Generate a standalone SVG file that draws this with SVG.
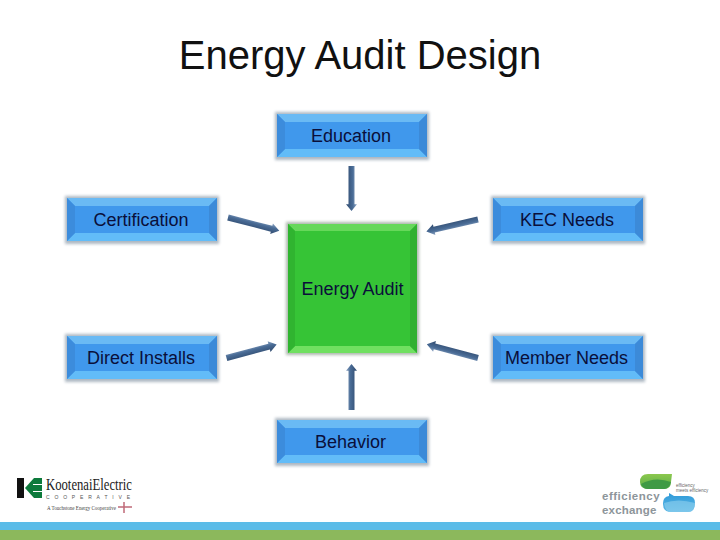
<svg xmlns="http://www.w3.org/2000/svg" xmlns:xlink="http://www.w3.org/1999/xlink" width="720" height="540" viewBox="0 0 720 540">
<style>
text{font-family:"Liberation Sans",Arial,sans-serif}
.lbl{font-size:18px;fill:#0a0f3a;text-anchor:middle}
.title{font-size:40px;fill:#111;text-anchor:middle}
</style>
<defs>
<linearGradient id="steel" x1="0" y1="0" x2="0" y2="1"><stop offset="0" stop-color="#8ea6c4"/><stop offset=".4" stop-color="#4a6c96"/><stop offset="1" stop-color="#2f4a6e"/></linearGradient>
<linearGradient id="greenBlob" x1="0" y1="0" x2="0" y2="1"><stop offset="0" stop-color="#8cc84e"/><stop offset="1" stop-color="#57ad48"/></linearGradient>
<linearGradient id="blueBlob" x1="0" y1="0" x2="0" y2="1"><stop offset="0" stop-color="#2f9ad8"/><stop offset="1" stop-color="#5db8e6"/></linearGradient>
<filter id="sh" x="-10%" y="-15%" width="120%" height="130%"><feGaussianBlur stdDeviation="1.6"/></filter>
<g id="blue">
<rect x="-2" y="-2" width="154" height="48" fill="#6b7f92" opacity=".55" filter="url(#sh)"/>
<rect width="150" height="43" fill="#4098ec"/>
<polygon points="0,0 150,0 142,8 8,8" fill="#6abaf4"/>
<polygon points="0,43 150,43 142,35 8,35" fill="#62bcf8"/>
<polygon points="0,0 8,8 8,35 0,43" fill="#3c8cdc"/>
<polygon points="150,0 142,8 142,35 150,43" fill="#3c8ad8"/>
</g>
<path id="arrow" d="M0-3H45V-5.500L53 0 45 5.500V3H0Z" fill="url(#steel)"/>
</defs>
<rect width="720" height="540" fill="#fff"/>
<text class="title" x="360" y="69">Energy Audit Design</text>
<g id="connectors">
<use xlink:href="#arrow" transform="translate(351.500 166) rotate(90) scale(.85 1)"/>
<use xlink:href="#arrow" transform="translate(351.500 410) rotate(-90) scale(.87 1)"/>
<use xlink:href="#arrow" transform="translate(228 217.500) rotate(14.500)"/>
<use xlink:href="#arrow" transform="translate(478 219.500) rotate(167)"/>
<use xlink:href="#arrow" transform="translate(226.500 358) rotate(-15) scale(.98 1)"/>
<use xlink:href="#arrow" transform="translate(478 358) rotate(-165)"/>
</g>
<g id="node-education"><use xlink:href="#blue" x="277" y="114"/><text class="lbl" x="351" y="142">Education</text></g>
<g id="node-certification"><use xlink:href="#blue" x="67" y="198"/><text class="lbl" x="141" y="226">Certification</text></g>
<g id="node-kec-needs"><use xlink:href="#blue" x="493" y="198"/><text class="lbl" x="567" y="226">KEC Needs</text></g>
<g id="node-direct-installs"><use xlink:href="#blue" x="67" y="336"/><text class="lbl" x="141" y="364">Direct Installs</text></g>
<g id="node-member-needs"><use xlink:href="#blue" x="493" y="336"/><text class="lbl" x="566.500" y="364">Member Needs</text></g>
<g id="node-behavior"><use xlink:href="#blue" x="277" y="420"/><text class="lbl" x="350.500" y="448">Behavior</text></g>
<g id="node-energy-audit">
<rect x="286" y="222" width="133" height="133" fill="#6b7f6b" opacity=".55" filter="url(#sh)"/>
<rect x="288" y="224" width="129" height="129" fill="#36c436"/>
<polygon points="288,224 417,224 410,231 295,231" fill="#66d85a"/>
<polygon points="288,353 417,353 410,346 295,346" fill="#70e060"/>
<polygon points="288,224 295,231 295,346 288,353" fill="#30b430"/>
<polygon points="417,224 410,231 410,346 417,353" fill="#30b030"/>
<text class="lbl" x="352.500" y="295">Energy Audit</text>
</g>
<g id="logo-kootenai">
<rect x="17" y="478" width="7" height="20" fill="#111"/>
<polygon points="25,488 34,478 42,478 42,498 34,498" fill="#0d7a3c"/>
<path d="M33 484.500H42M33 491.500H42" stroke="#fff" stroke-width="1"/>
<text x="46" y="489.500" font-size="17" textLength="86" lengthAdjust="spacingAndGlyphs" fill="#222" style="font-family:'Liberation Serif',serif">KootenaiElectric</text>
<text x="46" y="498.500" font-size="5" textLength="84" fill="#555">COOPERATIVE</text>
<text x="47" y="510" font-size="6" textLength="69" lengthAdjust="spacingAndGlyphs" fill="#444" style="font-family:'Liberation Serif',serif">A Touchstone Energy Cooperative</text>
<path d="M118 507H132M124 502V513" stroke="#c06a78" stroke-width="1.500"/>
</g>
<g id="logo-efficiency">
<path d="M640 482Q640 474 648 474H672L671 482Q671 489 664 489H648Q640 489 640 482Z" fill="url(#greenBlob)"/>
<path d="M641 484Q655 476 671 482Q669 489 664 489H648Q643 489 641 484Z" fill="#3f9a45"/>
<path d="M663 503Q663 497 669 496L669 493 674 496H688Q695 496 695 503Q695 512 688 512H671Q663 512 663 504Z" fill="url(#blueBlob)"/>
<path d="M664 503Q678 498 695 503Q694 512 688 512H671Q665 512 664 503Z" fill="#8fd0ee" opacity=".6"/>
<text font-size="11.500" font-weight="bold" fill="#8d959a" letter-spacing=".5" x="602" y="500">efficiency</text>
<text font-size="11.500" font-weight="bold" fill="#8d959a" letter-spacing=".2" x="602" y="513.500">exchange</text>
<text font-size="4.500" fill="#666"><tspan x="676" y="487">efficiency</tspan><tspan x="676" y="492">meets efficiency</tspan></text>
</g>
<rect y="522" width="720" height="8" fill="#5bbce8"/>
<rect y="530" width="720" height="10" fill="#8cb85c"/>
</svg>
